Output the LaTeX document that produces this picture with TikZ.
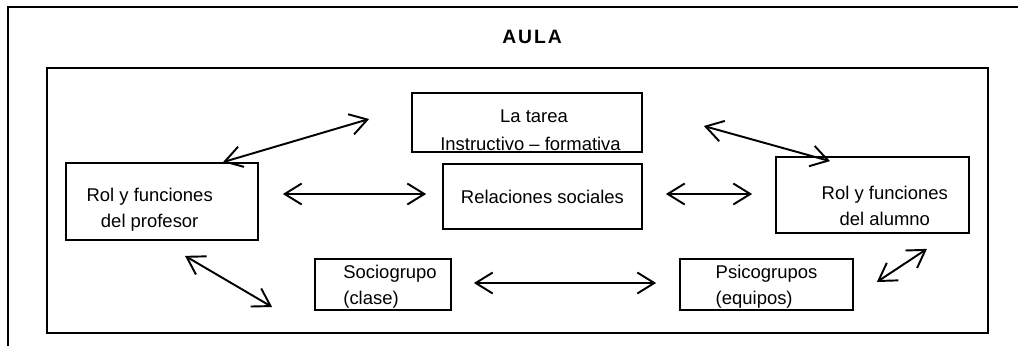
\documentclass[tikz,border=0pt]{standalone}
\usepackage{fontspec}
\setmainfont{Liberation Sans}
\usetikzlibrary{arrows.meta}
\newcommand{\bajar}[3][c]{\raisebox{-#2}[\height][\depth]{\begin{tabular}{@{}#1@{}}#3\end{tabular}}}
\begin{document}
\begin{tikzpicture}[x=0.02cm, y=-0.02cm,
    caja/.style={draw, line width=1pt, inner sep=0pt, align=center,
      font=\fontsize{10.5}{14.5}\selectfont},
    flecha/.style={line width=1.1pt, {Straight Barb[length=0.34cm,width=0.42cm]}-{Straight Barb[length=0.34cm,width=0.42cm]}}]
  \useasboundingbox (0,0) rectangle (1018,345);
  \clip (0,0) rectangle (1018,345);

  \draw [line width=1pt] (8,7) rectangle (1100,420);
  \node (aula) at (532,37) {\fontsize{11}{13}\selectfont\bfseries\addfontfeature{LetterSpace=10}AULA};
  \draw [line width=1.1pt] (47,68) rectangle (988,333);

  \node [caja, minimum width=4.6cm, minimum height=1.18cm] (tarea) at (527,122.5) {\bajar{5pt}{\hspace*{8pt}La tarea\\[1.6pt]\hspace*{4pt}Instructivo – formativa}};
  \node [caja, minimum width=3.98cm, minimum height=1.3cm] (rel) at (542.5,196.5) {Relaciones sociales};
  \node [caja, minimum width=3.84cm, minimum height=1.54cm] (prof) at (162,201.5) {\bajar{4.5pt}{Rol y funciones\\del profesor}\hspace*{14pt}};
  \node [caja, minimum width=3.86cm, minimum height=1.52cm] (alum) at (872.5,195) {\hspace*{14pt}\bajar{7pt}{Rol y funciones\\del alumno}};
  \node [caja, minimum width=2.72cm, minimum height=1.02cm] (socio) at (383,284.5) {\hspace*{8pt}\bajar[l]{1pt}{Sociogrupo\\(clase)}};
  \node [caja, minimum width=3.46cm, minimum height=1.02cm] (psico) at (766.5,284.5) {\bajar[l]{1pt}{Psicogrupos\\(equipos)}};

  \draw [flecha] ([xshift=1.22cm]prof.north) -- ([xshift=-0.84cm,yshift=0.07cm]tarea.west);
  \draw [flecha] ([xshift=1.22cm,yshift=-0.07cm]tarea.east) -- ([xshift=-0.85cm,yshift=-0.1cm]alum.north);
  \draw [flecha] ([xshift=0.48cm,yshift=0.15cm]prof.east) -- ([xshift=-0.32cm,yshift=0.05cm]rel.west);
  \draw [flecha] ([xshift=0.46cm,yshift=0.05cm]rel.east) -- ([xshift=-0.46cm,yshift=0.02cm]alum.west);
  \draw [flecha] ([xshift=0.46cm,yshift=-0.3cm]prof.south) -- ([xshift=-0.84cm,yshift=-0.45cm]socio.west);
  \draw [flecha] ([xshift=0.44cm,yshift=0.03cm]socio.east) -- ([xshift=-0.46cm,yshift=0.03cm]psico.west);
  \draw [flecha] ([xshift=0.46cm,yshift=0.05cm]psico.east) -- ([xshift=1.09cm,yshift=-0.3cm]alum.south);
\end{tikzpicture}
\end{document}
